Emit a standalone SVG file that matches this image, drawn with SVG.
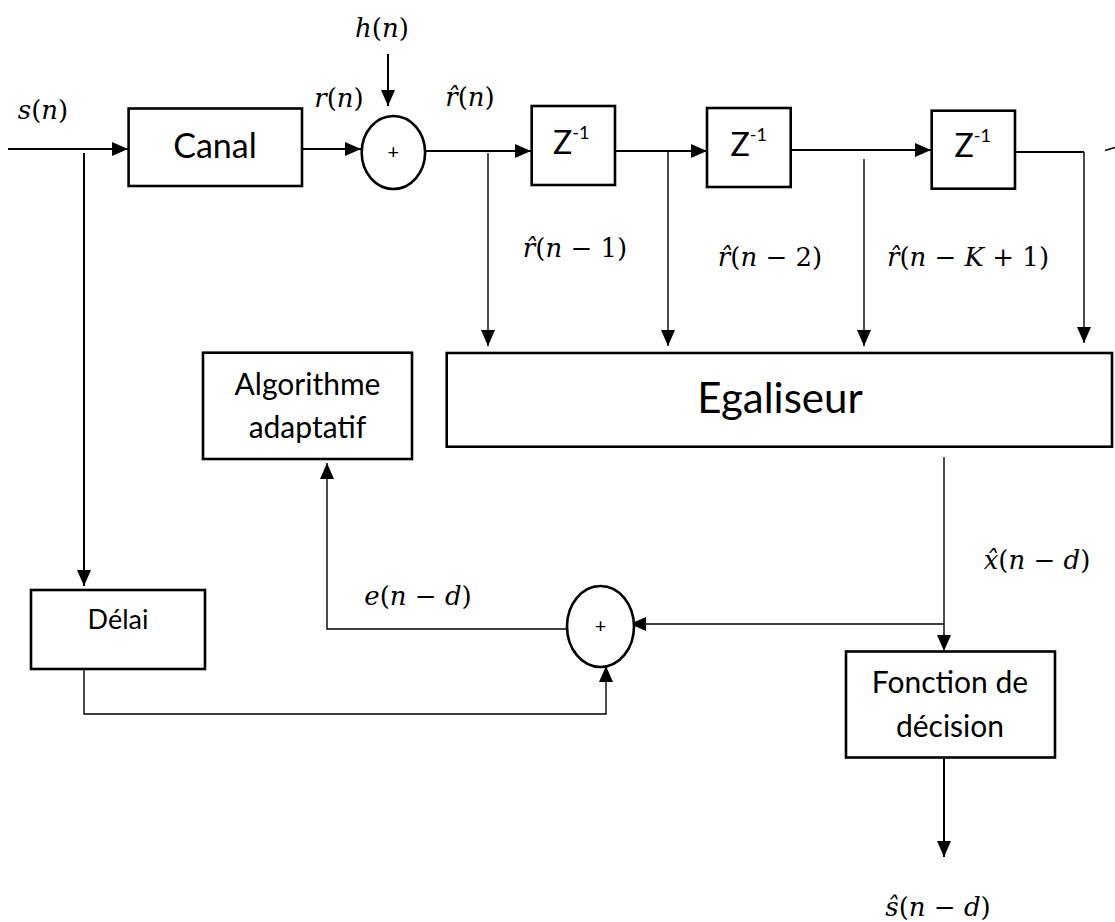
<svg xmlns="http://www.w3.org/2000/svg" width="1115" height="922" viewBox="0 0 1115 922">
<style>
.box{fill:#fff;stroke:#000;stroke-width:2.6}
.sum{fill:#fff;stroke:#000;stroke-width:2.6}
.ln{fill:none;stroke:#000;stroke-width:2}
.lt{fill:none;stroke:#000;stroke-width:1.4}
.lab{font-family:Lato,"Liberation Sans",sans-serif;fill:#000;text-anchor:middle}
.z{font-family:Lato,"Liberation Sans",sans-serif;fill:#000;font-size:32px}
.m{font-family:"DejaVu Serif","Liberation Serif",serif;font-size:26px;fill:#000;text-anchor:middle}
.i{font-style:italic}
</style>
<defs>
<marker id="ah" markerUnits="userSpaceOnUse" markerWidth="16" markerHeight="14" refX="16" refY="7" orient="auto">
<path d="M0,0 L16,7 L0,14 z" fill="#000"/>
</marker>
</defs>
<rect width="1115" height="922" fill="#fff"/>

<g id="connectors">
<path class="ln" d="M8,149 H128" marker-end="url(#ah)"/>
<path class="ln" d="M302,149 H361" marker-end="url(#ah)"/>
<path class="ln" d="M388,54 V106" marker-end="url(#ah)"/>
<path class="ln" d="M425,151 H531" marker-end="url(#ah)"/>
<path class="ln" d="M615,151 H707" marker-end="url(#ah)"/>
<path class="ln" d="M791,150 H931" marker-end="url(#ah)"/>
<path class="ln" d="M1015,152 H1084"/>
<path class="lt" d="M1105,150.5 L1115,147.5"/>
<path class="lt" d="M488,153 V346" marker-end="url(#ah)"/>
<path class="lt" d="M668,151 V346" marker-end="url(#ah)"/>
<path class="lt" d="M864,159 V346" marker-end="url(#ah)"/>
<path class="lt" d="M1084,152 V343" marker-end="url(#ah)"/>
<path class="ln" d="M84,153 V586" marker-end="url(#ah)"/>
<path class="lt" d="M84,669 V714 H606 V666" marker-end="url(#ah)"/>
<path class="lt" d="M944,457 V651" marker-end="url(#ah)"/>
<path class="lt" d="M944,624 H630" marker-end="url(#ah)"/>
<path class="lt" d="M567,629 H327 V463" marker-end="url(#ah)"/>
<path class="ln" d="M944,758 V857" marker-end="url(#ah)"/>
</g>

<g id="canal">
<rect class="box" x="128.6" y="108.5" width="173.4" height="77.5"/>
<text class="lab" x="215" y="158" font-size="34">Canal</text>
</g>
<g id="adder1">
<ellipse class="sum" cx="393.4" cy="152.5" rx="31.7" ry="36.5"/>
<text class="lab" x="393.4" y="159" font-size="20">+</text>
</g>
<g id="z1">
<rect class="box" x="531.7" y="106" width="83.3" height="79"/>
<text class="z" x="553" y="154">Z<tspan font-size="18" dy="-15">-1</tspan></text>
</g>
<g id="z2">
<rect class="box" x="707" y="108" width="83.7" height="79"/>
<text class="z" x="730.5" y="156">Z<tspan font-size="18" dy="-15">-1</tspan></text>
</g>
<g id="z3">
<rect class="box" x="931.7" y="110.7" width="83.3" height="78"/>
<text class="z" x="954.5" y="157">Z<tspan font-size="18" dy="-15">-1</tspan></text>
</g>
<g id="egaliseur">
<rect class="box" x="446.7" y="353" width="665.3" height="93.7"/>
<text class="lab" x="780" y="413" font-size="42">Egaliseur</text>
</g>
<g id="algorithme">
<rect class="box" x="203" y="352.7" width="209" height="106.3"/>
<text class="lab" x="307.5" y="395" font-size="30">Algorithme</text>
<text class="lab" x="307.5" y="438" font-size="30">adaptatif</text>
</g>
<g id="delai">
<rect class="box" x="31" y="590" width="174" height="79"/>
<text class="lab" x="118" y="629" font-size="27">Délai</text>
</g>
<g id="adder2">
<ellipse class="sum" cx="600.5" cy="626.5" rx="33.5" ry="40.5"/>
<text class="lab" x="600.5" y="633" font-size="20">+</text>
</g>
<g id="fonction">
<rect class="box" x="846" y="651.5" width="209" height="106"/>
<text class="lab" x="950" y="693" font-size="30">Fonction de</text>
<text class="lab" x="950" y="737" font-size="30">décision</text>
</g>

<g id="labels">
<text class="m" x="43" y="119"><tspan class="i">s</tspan>(<tspan class="i">n</tspan>)</text>
<text class="m" x="382" y="37"><tspan class="i">h</tspan>(<tspan class="i">n</tspan>)</text>
<text class="m" x="339" y="107"><tspan class="i">r</tspan>(<tspan class="i">n</tspan>)</text>
<text class="m" x="470" y="106"><tspan class="i">r̂</tspan>(<tspan class="i">n</tspan>)</text>
<text class="m" x="575" y="257"><tspan class="i">r̂</tspan>(<tspan class="i">n</tspan> − 1)</text>
<text class="m" x="770" y="266"><tspan class="i">r̂</tspan>(<tspan class="i">n</tspan> − 2)</text>
<text class="m" x="968" y="266"><tspan class="i">r̂</tspan>(<tspan class="i">n</tspan> − <tspan class="i">K</tspan> + 1)</text>
<text class="m" x="418" y="605"><tspan class="i">e</tspan>(<tspan class="i">n</tspan> − <tspan class="i">d</tspan>)</text>
<text class="m" x="1037" y="569"><tspan class="i">x̂</tspan>(<tspan class="i">n</tspan> − <tspan class="i">d</tspan>)</text>
<text class="m" x="938" y="916"><tspan class="i">ŝ</tspan>(<tspan class="i">n</tspan> − <tspan class="i">d</tspan>)</text>
</g>
</svg>
